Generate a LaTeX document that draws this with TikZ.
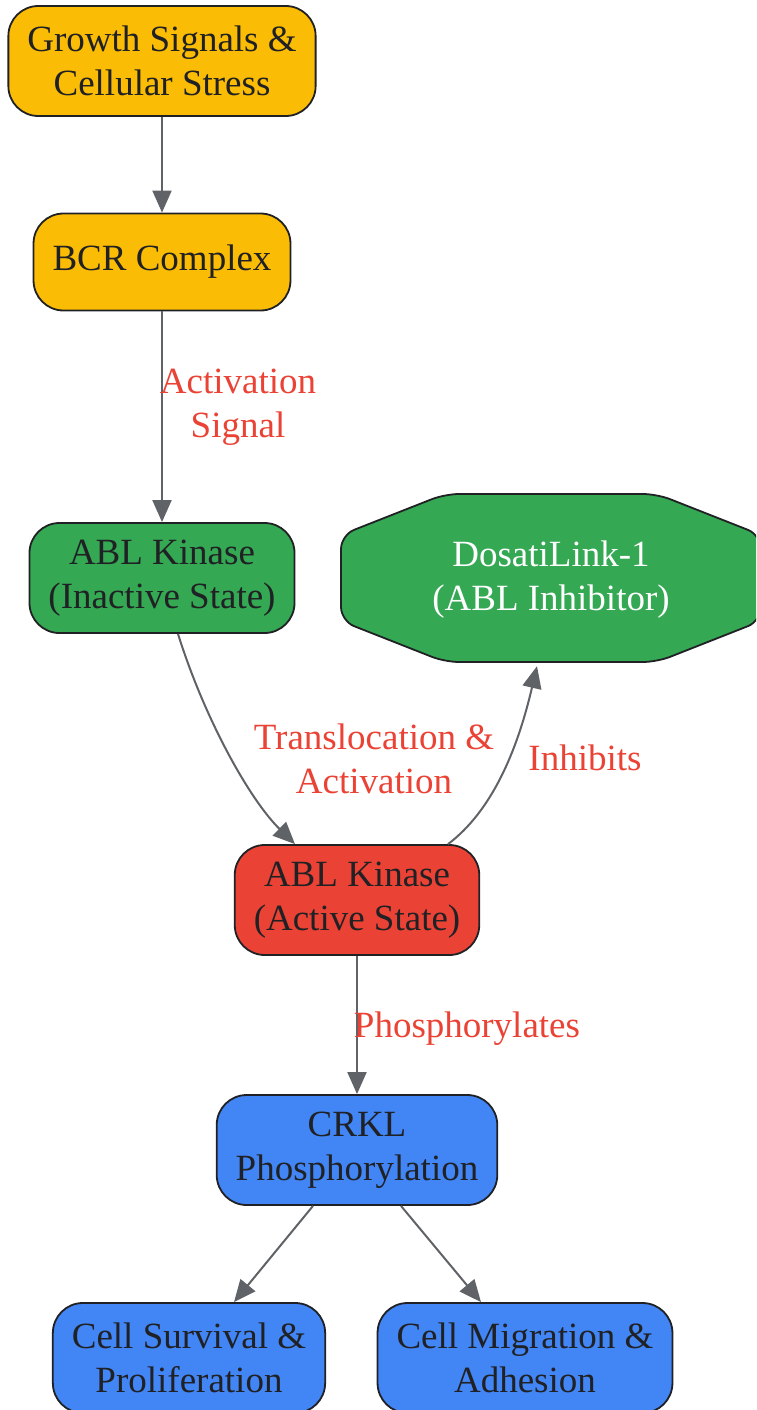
\documentclass[tikz,border=0pt]{standalone}
\usepackage{fontspec}
\setmainfont{Liberation Serif}
\usetikzlibrary{arrows.meta}
\definecolor{gyellow}{HTML}{FBBC05}
\definecolor{ggreen}{HTML}{34A853}
\definecolor{gred}{HTML}{EA4335}
\definecolor{gblue}{HTML}{4285F4}
\definecolor{linegray}{HTML}{5F6368}
\definecolor{textdark}{HTML}{202124}

\begin{document}
\begin{tikzpicture}[x=1pt,y=-1pt,>={Triangle[length=22pt,width=19pt]},
    box/.style={draw=textdark,line width=1.8pt,rounded corners=30pt,align=center,
        inner xsep=19pt,minimum height=110pt,text=textdark,font=\fontsize{37}{44}\selectfont},
    flow/.style={->,draw=linegray,line width=2pt},
    lbl/.style={text=gred,align=center,inner sep=0pt,font=\fontsize{37}{44}\selectfont}]
    \clip (0,0) rectangle (756,1410);

    \node[box,fill=gyellow] (growth) at (162,61) {Growth Signals \&\\Cellular Stress};
    \node[box,fill=gyellow,minimum height=97pt] (bcr) at (162,262) {BCR Complex};
    \node[box,fill=ggreen] (inactive) at (162,578) {ABL Kinase\\(Inactive State)};

    \filldraw[fill=ggreen,draw=textdark,line width=1.8pt,rounded corners=14pt]
        (341,535) -- (445,494) -- (657,494) -- (761,535) -- (761,621) -- (657,662) -- (445,662) -- (341,621) -- cycle;
    \node[align=center,text=white,minimum width=420pt,minimum height=168pt,font=\fontsize{37}{44}\selectfont] (dosati) at (551,580) {DosatiLink-1\\(ABL Inhibitor)};

    \node[box,fill=gred] (active) at (357,900) {ABL Kinase\\(Active State)};
    \node[box,fill=gblue] (crkl) at (357,1150) {CRKL\\Phosphorylation};
    \node[box,fill=gblue] (survival) at (189,1358) {Cell Survival \&\\Proliferation};
    \node[box,fill=gblue] (migration) at (525,1358) {Cell Migration \&\\Adhesion};

    \draw[flow] (growth) -- (bcr);
    \draw[flow] (bcr) -- (inactive);
    \draw[flow] ([xshift=16pt]inactive.south) .. controls (205,720) and (250,800) .. ([xshift=-62pt]active.north);
    \draw[flow] ([xshift=91pt]active.north) .. controls (500,805) and (522,730) .. ([xshift=-14pt,yshift=-2pt]dosati.south);
    \draw[flow] (active) -- (crkl);
    \draw[flow] ([xshift=-44pt]crkl.south) -- ([xshift=45pt]survival.north);
    \draw[flow] ([xshift=44pt]crkl.south) -- ([xshift=-44pt]migration.north);

    \node[lbl] (lblact) at (238,407) {Activation\\Signal};
    \node[lbl] (lbltrans) at (374,759) {Translocation \&\\Activation};
    \node[lbl] (lblinh) at (585,758) {Inhibits};
    \node[lbl] (lblphos) at (467,1029) {Phosphorylates};
\end{tikzpicture}
\end{document}
